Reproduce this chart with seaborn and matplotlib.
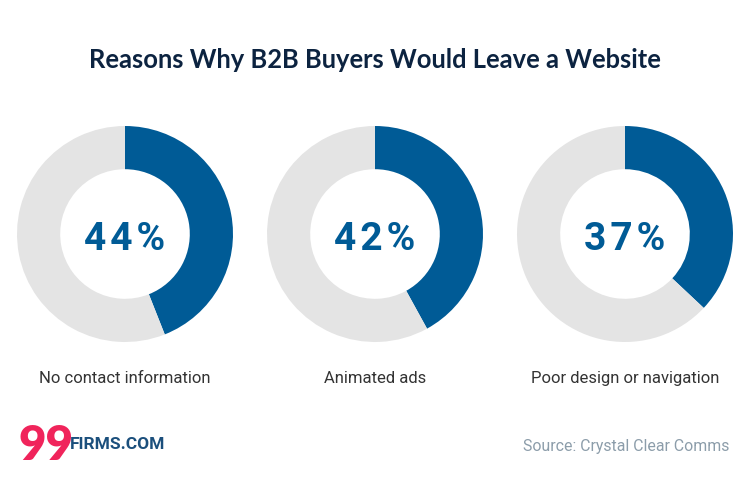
import matplotlib
matplotlib.use("Agg")
import seaborn as sns
import matplotlib.pyplot as plt

# chart data
reasons = ["No contact information", "Animated ads", "Poor design or navigation"]
shares = [44, 42, 37]
title = "Reasons Why B2B Buyers Would Leave a Website"
source = "Source: Crystal Clear Comms"

BLUE = "#005b96"
GREY = "#e4e4e4"
NAVY = "#0c2340"

sns.set_theme(style="white")
plt.rcParams["font.family"] = ["Roboto", "DejaVu Sans"]

fig = plt.figure(figsize=(7.5, 4.85), dpi=100)
fig.patch.set_facecolor("white")

W, H = 750, 485
radius_px = 108
centers_x = [125, 375, 625]
center_y = 235

for cx, label, value in zip(centers_x, reasons, shares):
    ax = fig.add_axes([(cx - radius_px) / W, 1 - (center_y + radius_px) / H,
                       2 * radius_px / W, 2 * radius_px / H])
    ax.pie([value, 100 - value], colors=[BLUE, GREY], startangle=90,
           counterclock=False, radius=1,
           wedgeprops=dict(width=0.4, edgecolor="none"))
    ax.set_xlim(-1, 1)
    ax.set_ylim(-1, 1)
    ax.set_aspect("equal")
    ax.axis("off")
    # hair spaces spread the characters a little, like the original lettering
    ax.text(0, -0.04, "\u200a".join(f"{value}%"), ha="center", va="center",
            fontsize=28, fontweight="bold", color=BLUE)
    fig.text(cx / W, 1 - 379 / H, label, ha="center", va="center",
             fontsize=12, color="#333333")

fig.text(0.5, 1 - 60 / H, title, ha="center", va="center", fontsize=18.4,
         fontweight="bold", color=NAVY, family=["Lato", "DejaVu Sans"])
fig.text(729 / W, 1 - 447 / H, source, ha="right", va="center",
         fontsize=11.4, color="#8c9daa")

# logo
fig.text(18 / W, 1 - 446 / H, "99", ha="left", va="center", fontsize=34,
         fontweight="heavy", color="#f0245b", family=["Lato", "DejaVu Sans"])
fig.text(70 / W, 1 - 445 / H, "FIRMS.COM", ha="left", va="center",
         fontsize=12.5, fontweight="bold", color="#1b4f7c")

fig.savefig("out.png", dpi=100, facecolor="white")
